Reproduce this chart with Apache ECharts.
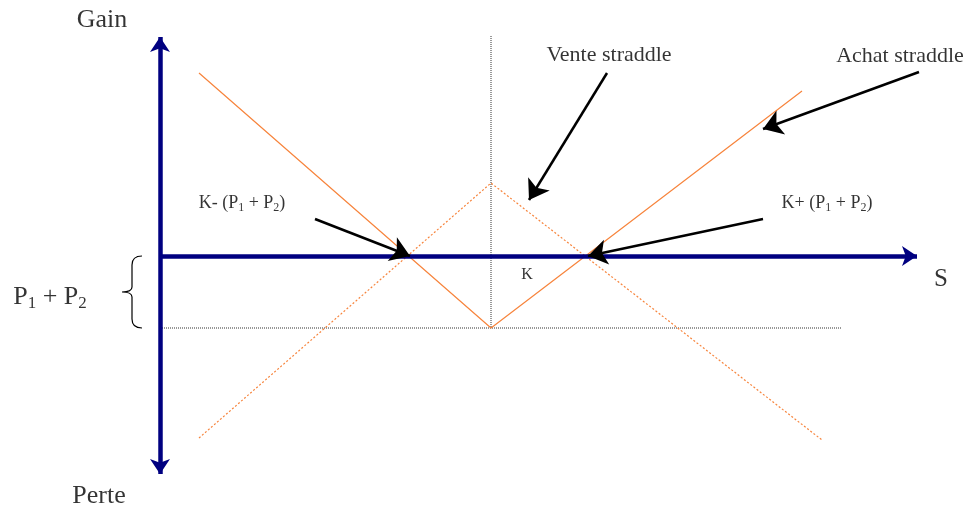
<!DOCTYPE html>
<html>
<head>
<meta charset="utf-8">
<script src="https://cdn.jsdelivr.net/npm/echarts@6/dist/echarts.min.js"></script>
<style>
    html, body { margin: 0; background: #fff; }
    #chart { width: 968px; height: 508px; }
</style>
</head>
<body>
<div id="chart"></div>
<script>
// payoff data (S on x, gain on y)
const strike = 49.1;
const premium = 7.2;
const achatX = [19.9, 49.1, 80.2];
const achatY = [18.3, -7.2, 16.5];
const venteX = [19.9, 49.1, 82.2];
const venteY = [-18.2, 7.3, -18.4];

// axes and guides
const axisS = [[16.0, 0], [91.7, 0]];
const axisGain = [[16.0, 21.9], [16.0, -21.8]];
const guideV = [[strike, 22.0], [strike, -premium]];
const guideH = [[16.0, -premium], [84.1, -premium]];

// annotation arrows: [from, to]
const pointers = [
    [[60.7, 18.3], [52.9, 5.6]],
    [[91.9, 18.4], [76.3, 12.7]],
    [[31.5, 3.7], [41.0, 0]],
    [[76.3, 3.7], [58.8, 0]],
];

// text labels
const labelText = [
    "Gain",
    "Perte",
    "S",
    "P{s|1} + P{s|2}",
    "K",
    "K- (P{t|1} + P{t|2})",
    "K+ (P{t|1} + P{t|2})",
    "Vente straddle",
    "Achat straddle",
];
const labelX = [10.2, 9.9, 94.1, 5.0, 52.7, 24.2, 82.7, 60.9, 90.0];
const labelY = [23.6, -24.0, -2.3, -4.1, -1.9, 5.3, 5.3, 20.1, 20.0];
const labelSize = [26, 26, 25, 26, 16, 18, 18, 22, 22];

const orange = "#f7843c";
const navy = "#000080";
const serif = "Liberation Serif";

const chart = echarts.init(document.getElementById("chart"));

const zip = (xs, ys) => xs.map((x, i) => [x, ys[i]]);

const option = {
    animation: false,
    grid: { left: 0, right: 0, top: 0, bottom: 0 },
    xAxis: { type: "value", min: 0, max: 96.8, show: false },
    yAxis: { type: "value", min: -25.2, max: 25.6, show: false },
    series: [
        {
            type: "line",
            data: zip(achatX, achatY),
            symbol: "none",
            lineStyle: { color: orange, width: 1.2 },
            z: 2,
        },
        {
            type: "line",
            data: zip(venteX, venteY),
            symbol: "none",
            lineStyle: { color: orange, width: 1.2, type: [2, 2] },
            z: 2,
        },
        {
            type: "line",
            data: guideV,
            symbol: "none",
            lineStyle: { color: "#555", width: 1.2, type: [1, 1] },
            z: 1,
        },
        {
            type: "line",
            data: guideH,
            symbol: "none",
            lineStyle: { color: "#555", width: 1.2, type: [1, 1] },
            z: 1,
        },
        {
            type: "lines",
            coordinateSystem: "cartesian2d",
            data: [{ coords: axisS }],
            symbol: ["none", "arrow"],
            symbolSize: 15,
            lineStyle: { color: navy, width: 4.5, opacity: 1 },
            z: 3,
        },
        {
            type: "lines",
            coordinateSystem: "cartesian2d",
            data: [{ coords: axisGain }],
            symbol: ["arrow", "arrow"],
            symbolSize: 15,
            lineStyle: { color: navy, width: 4.5, opacity: 1 },
            z: 3,
        },
        {
            type: "lines",
            coordinateSystem: "cartesian2d",
            data: pointers.map((p) => ({ coords: p })),
            symbol: ["none", "arrow"],
            symbolSize: 19,
            lineStyle: { color: "#000", width: 2.5, opacity: 1 },
            z: 4,
        },
        {
            // brace next to the vertical axis
            type: "custom",
            data: [[14.2, 0, -premium]],
            encode: { x: 0, y: [1, 2] },
            renderItem: (params, api) => {
                const top = api.coord([api.value(0), api.value(1)]);
                const bot = api.coord([api.value(0), api.value(2)]);
                const x = top[0];
                const sx = x - 10;
                const tx = x - 20;
                const mid = (top[1] + bot[1]) / 2;
                const d =
                    `M${x},${top[1]} Q${sx},${top[1]} ${sx},${top[1] + 9}` +
                    ` L${sx},${mid - 5} Q${sx},${mid} ${tx},${mid}` +
                    ` Q${sx},${mid} ${sx},${mid + 5}` +
                    ` L${sx},${bot[1] - 9} Q${sx},${bot[1]} ${x},${bot[1]}`;
                return {
                    type: "path",
                    shape: { pathData: d },
                    style: { stroke: "#000", fill: "none", lineWidth: 1.2 },
                };
            },
            z: 4,
        },
        {
            type: "scatter",
            symbolSize: 0,
            data: labelText.map((t, i) => ({
                value: [labelX[i], labelY[i]],
                label: {
                    show: true,
                    position: "inside",
                    formatter: t,
                    color: "#000",
                    fontFamily: serif,
                    fontSize: labelSize[i],
                    rich: {
                        s: {
                            fontFamily: serif,
                            fontSize: 17,
                            color: "#000",
                            padding: [13, 0, 0, 0],
                        },
                        t: {
                            fontFamily: serif,
                            fontSize: 12,
                            color: "#000",
                            padding: [9, 0, 0, 0],
                        },
                    },
                },
            })),
            z: 5,
        },
    ],
};

chart.setOption(option);

window.addEventListener("resize", () => {
    chart.resize();
});
</script>
</body>
</html>
